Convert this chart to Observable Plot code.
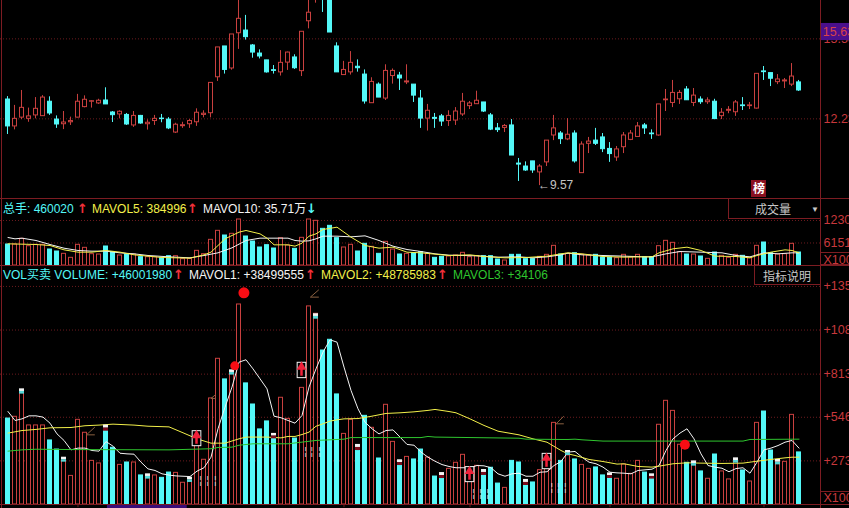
<!DOCTYPE html>
<html><head><meta charset="utf-8">
<script src="https://cdn.jsdelivr.net/npm/d3@7"></script>
<script src="https://cdn.jsdelivr.net/npm/@observablehq/plot@0.6"></script>
<style>
html,body{margin:0;padding:0;background:#000;width:849px;height:508px;overflow:hidden}
#root{position:relative;width:849px;height:508px;overflow:hidden;font-family:"Liberation Sans","Noto Sans CJK SC",sans-serif;font-size:12px}
#root svg{position:absolute;left:0;max-width:none}
.t{position:absolute;white-space:pre;line-height:14px}
.ln{position:absolute;background:#7d1c22}
.box{position:absolute;border:1px solid #7d1c22;box-sizing:border-box;background:#000}
</style></head><body><div id="root"></div>
<script>
const openPrice = [13.02,11.92,12.28,12.23,12.37,12.34,12.93,12.20,12.01,12.09,
12.28,12.71,12.93,12.86,12.98,12.49,12.41,12.39,11.96,12.35,
12.01,12.14,12.24,12.20,11.67,11.93,12.01,12.09,12.39,12.46,
13.93,15.19,14.29,15.73,15.84,15.23,14.90,14.62,14.22,14.13,
14.53,14.74,14.18,16.22,17.3,17.4,17.4,15.19,14.02,14.13,
14.36,14.04,12.87,13.63,13.06,13.98,14.00,13.72,13.63,13.06,
12.24,12.27,12.33,12.14,12.16,12.41,12.75,12.83,12.90,12.37,
11.84,11.86,11.96,10.40,10.28,10.49,10.04,10.45,11.55,11.63,
11.39,11.63,10.01,11.21,11.34,11.47,11.00,10.65,11.07,11.37,
11.49,11.96,11.63,11.55,12.99,12.88,13.03,13.43,12.88,13.02,
12.91,12.93,12.34,12.56,12.50,12.78,12.75,12.65,14.17,14.10,
13.73,13.76,13.63,13.72];
const closePrice = [11.92,12.23,12.68,12.33,12.64,13.10,12.45,12.00,12.08,12.14,
12.93,13.01,12.95,12.97,12.82,12.38,12.52,12.00,12.35,12.04,
12.07,12.23,12.22,11.84,11.99,11.97,12.14,12.48,12.44,13.70,
15.15,14.23,15.68,16.32,15.57,14.94,14.78,14.13,14.19,14.52,
14.94,14.30,15.79,16.57,17.6,17.2,15.76,14.13,14.23,14.52,
14.30,12.94,13.74,13.10,14.19,14.19,13.88,13.76,13.18,12.24,
12.56,12.23,12.12,12.35,12.53,12.93,12.86,12.97,12.53,11.79,
11.77,11.94,10.73,10.36,10.12,10.12,10.28,11.34,11.84,11.40,
11.58,10.49,11.18,11.30,11.21,10.99,10.79,10.98,11.55,11.63,
11.92,11.84,11.60,12.82,13.02,13.29,13.29,12.99,13.18,12.91,
12.98,12.22,12.48,12.60,12.90,12.75,12.78,14.07,14.14,13.87,
13.84,13.80,13.96,13.39];
const high = [13.14,12.78,13.39,12.67,13.10,13.18,13.13,12.35,12.53,12.30,
13.23,13.17,12.98,13.03,13.50,12.53,12.56,12.45,12.53,12.37,
12.19,12.37,12.41,12.28,12.05,12.09,12.20,12.64,12.56,13.70,
15.15,15.19,15.68,17.3,16.46,15.27,15.05,14.62,14.41,15.02,
14.96,14.85,15.79,17.3,17.8,17.6,17.6,15.34,14.58,14.98,
14.64,14.23,13.91,13.70,14.44,14.27,14.13,14.44,13.63,13.39,
12.82,12.45,12.41,12.56,12.69,13.27,12.94,13.36,12.90,12.45,
12.04,12.00,12.20,10.61,10.47,10.49,10.36,11.34,12.37,11.71,
12.24,11.74,11.29,11.47,11.84,11.63,11.26,11.10,11.67,11.75,
12.08,12.04,11.78,12.82,13.43,13.80,13.39,13.55,13.47,13.13,
13.09,13.03,12.65,12.73,12.98,13.10,12.90,14.07,14.37,14.10,
14.04,13.88,14.49,13.80];
const low = [11.59,11.78,12.20,12.09,12.23,12.33,12.37,11.84,11.79,11.96,
12.27,12.68,12.67,12.82,12.82,12.08,12.23,11.96,11.88,12.01,
11.77,11.96,12.07,11.79,11.63,11.84,11.84,11.92,12.27,12.27,
13.76,14.06,14.22,15.07,15.45,14.71,14.68,14.10,14.06,13.98,
14.21,14.25,13.96,15.91,16.96,16.58,15.76,14.13,14.02,14.02,
14.14,12.83,12.87,13.10,12.98,13.65,13.39,13.63,12.90,11.84,
11.73,11.84,11.92,11.92,11.96,12.33,12.61,12.82,12.49,11.75,
11.67,11.67,10.73,9.67,10.08,10.00,9.50,10.28,11.34,11.18,
11.34,10.42,10.01,10.81,11.14,10.85,10.45,10.49,10.81,11.34,
11.47,11.59,11.39,11.52,12.53,12.69,12.82,12.98,12.73,12.82,
12.82,12.20,12.20,12.44,12.33,12.57,12.61,12.63,13.80,13.55,
13.63,13.47,13.55,13.35];

const midVolume = [5739,5739,7288,5284,5648,5648,4373,3826,3189,2095,
5648,4828,3097,3006,5193,3644,2733,3006,3006,2278,
2278,2278,2004,2551,2551,1731,1822,4008,3097,7015,
9474,8199,8655,12572,7926,6559,4919,5557,4646,7470,
5466,4555,7561,12572,12207,10021,10841,7470,4919,5648,
3826,5922,5102,3189,6468,4373,3006,3189,3371,3644,
3189,2095,2369,2460,2733,3462,2278,2551,2551,2551,
1640,1367,2915,2915,1731,1731,2369,2915,5375,3006,
3189,3371,2915,2733,2915,2186,2186,2004,2915,2186,
2915,2278,2278,5284,6741,6195,3644,3006,3006,2460,
1822,3553,2642,2095,2915,2642,2004,5375,6286,3371,
3006,3097,5922,3553];
const mavol10Idx = [0,1,2,4,6,8,10,12,14,16,18,20,23,26,28,30,32,34,36,37,39,40,41,42,43,44,45,47,49,51,53,55,57,59,61,63,67,70,73,75,77,79,80,82,85,88,91,92,94,96,99,102,104,106,108,110,112,113];
const mavol10 = [7652,7288,7470,6833,5739,4737,4100,3917,3917,3462,3189,2733,2369,2095,2733,3462,4828,6833,7470,7470,7470,7470,6833,6650,6741,7288,8017,8017,7835,8108,6833,5284,4373,3826,3189,2824,2642,2278,2369,2095,2369,2915,3371,2915,2733,2551,2369,2369,3189,3826,3644,3462,2733,2369,3462,3189,3462,3462];
const mavol5Idx = [0,2,4,6,8,10,12,14,16,18,20,22,26,28,29,31,33,34,36,37,38,39,40,41,42,43,44,45,47,49,51,53,55,57,59,61,63,66,68,71,74,77,79,80,82,85,88,91,92,93,95,97,99,101,104,106,107,109,111,112,113];
const mavol5 = [5922,5830,5739,5466,4282,3644,3644,4100,3644,2915,2551,2186,2004,2915,3644,7288,9110,9566,8655,7470,5648,5648,5648,5284,6104,8017,8655,9839,10477,7744,5466,4737,5011,3644,3462,3097,2733,2915,2460,2095,2186,2551,3189,3462,3189,2460,2278,2369,2369,3462,4555,5011,4100,2551,2460,2095,2733,3644,4282,4100,3462];

const volume = [538,549,714,495,495,495,401,344,275,179,
530,449,273,257,459,355,248,263,263,182,
182,182,167,200,198,136,150,380,280,664,
912,783,829,1252,758,626,470,520,417,668,
536,413,730,1240,1194,964,1031,689,442,530,
336,555,480,288,624,392,244,298,282,344,
294,175,161,223,261,311,192,242,182,230,
131,104,273,263,119,138,215,223,511,273,
307,282,248,223,232,182,171,161,250,192,
273,200,171,499,649,586,374,261,255,207,
161,313,207,157,275,213,144,511,582,338,
265,267,561,326];
const mavol1 = [582,526,536,555,555,547,509,442,401,342,
353,353,338,334,394,365,321,317,315,265,
223,213,192,184,179,177,175,209,230,296,
474,609,735,891,906,849,787,724,553,543,
526,509,557,735,849,954,1031,1016,860,714,
599,515,474,442,463,467,422,376,371,328,
296,271,250,238,230,230,230,244,242,230,
192,177,192,196,177,177,202,205,244,269,
328,332,296,265,255,234,202,198,196,192,
213,217,221,244,338,411,447,474,411,317,
244,234,227,205,225,230,196,265,342,353,
369,390,401,353];
const mavol2Idx = [0,2,4,6,9,11,13,15,18,20,23,25,27,29,31,33,34,37,39,40,41,42,43,44,45,46,47,48,50,52,54,56,58,60,61,63,64,66,68,70,73,75,77,79,80,81,83,85,87,88,90,92,93,95,97,99,102,105,107,109,111,112,113];
const mavol2 = [447,463,470,480,482,493,497,503,497,490,486,449,411,384,384,411,422,422,417,426,426,438,453,490,505,522,530,536,538,553,570,574,580,589,595,582,574,536,495,459,436,411,390,338,317,307,282,269,253,255,238,234,240,255,261,259,257,259,271,282,292,296,296];
const mavol3Idx = [0,2,4,9,23,29,30,32,33,35,39,40,44,48,49,59,60,61,73,74,79,80,81,82,85,104,105,106,113];
const mavol3 = [334,342,346,344,342,349,357,359,371,380,380,380,401,409,419,419,426,422,415,409,407,407,409,405,397,397,397,407,409];

const markerIdx = [2,8,14,20,26,32,38,44,50,56,62,68,74,80,86,92,98,104,110];
const markerTop = [724,296,497,192,171,843,445,1194,376,280,200,219,157,338,198,192,273,292,282];
const markerBot = [691,265,459,159,138,810,411,1160,338,244,163,182,119,307,163,159,240,259,248];
const markerDark = [14,38,50,56,62,68,74,86,92];
const boxIdx = [27,42,66,77];
const boxTop = [459,887,234,317];
const boxBot = [365,791,140,221];
const dotIdx = [33.7,32.4,96.7];
const dotVal = [1325,868,374];
const dotSize = [5.5,4.5,5];
const angleIdx = [11.2,29,43.2,78.3];
const angleEnd = [12.4,29.7,44.4,79.4];
const angleLow = [436,664,1298,505];
const angleHigh = [484,689,1344,553];
const specksIdx = [27.5,28.5,29.6,42.5,43.4,44.5,66.5,67.5,68.5,77.7,78.6,79.6];
const specksVal = [150,150,150,332,332,332,67,67,67,104,104,104];
const dateTicks = [10,48,66,86,108];

const priceTicks = [15.50,12.23], priceLabels = ["15.50","12.23"];
const midTicks = [12302,6151], midLabels = ["1230","6151"];
const volTicks = [1365,1092,816,546,273], volLabels = ["+135","+108","+813","+546","+273"];

const RED="#c9403f", CYAN="#54f8f8", YEL="#f3f04a", GRN="#2fc62f", WHT="#f4f4f4", GRID="#6c1a1e", AX="#c8383c";
const font="'Liberation Sans','Noto Sans CJK SC',sans-serif";
const idx = d3.range(openPrice.length);
const xScale = {type:"linear",domain:[-1.0714,116.0714],range:[0,820]};
const base = {width:849,marginLeft:0,marginRight:29,marginTop:0,marginBottom:0,x:{...xScale,axis:null},
  style:{background:"transparent",fontFamily:font,fontSize:"12px",overflow:"hidden"}};
const up = i => closePrice[i]>=openPrice[i];
const hw = 2/7;

function axis(ticks,labels){return Plot.axisY(ticks,{anchor:"right",tickSize:0,tickPadding:3,color:AX,fontSize:12.5,
  tickFormat:d=>labels[ticks.indexOf(d)]});}
function grid(ticks){return Plot.ruleY(ticks,{stroke:GRID,strokeDasharray:"1 2"});}
function bars(vals){return Plot.rect(idx,{x1:i=>i-hw,x2:i=>i+hw,y1:0,y2:i=>vals[i],
  fill:i=>up(i)?"#000":CYAN,stroke:i=>up(i)?RED:CYAN,strokeWidth:1});}
function series(ix,vs,c){return Plot.line(vs,{x:(d,k)=>ix[k],y:d=>d,stroke:c,strokeWidth:1});}

const pricePlot = Plot.plot({...base,height:198,y:{domain:[17.069,8.973],range:[0,198],axis:null},marks:[
  grid(priceTicks), axis(priceTicks,priceLabels),
  Plot.ruleX(idx,{x:i=>i,y1:i=>low[i],y2:i=>high[i],stroke:i=>up(i)?RED:CYAN,strokeWidth:1,dx:-0.5}),
  Plot.rect(idx,{x1:i=>i-hw,x2:i=>i+hw,y1:i=>openPrice[i],y2:i=>closePrice[i],fill:i=>up(i)?"#000":CYAN,stroke:i=>up(i)?RED:CYAN,strokeWidth:1}),
  Plot.text(["←9.57"],{x:75.7,y:9.50,text:d=>d,textAnchor:"start",fill:"#c4c4c4",fontSize:12}),
  Plot.rect([0],{x1:116.2,x2:121,y1:16.13,y2:15.43,fill:"#4a0f8c"}),
  Plot.text(["15.63"],{x:116.4,y:15.78,text:d=>d,textAnchor:"start",fill:"#d8434a",fontSize:12.5})
]});
pricePlot.style.top="0";

const midPlot = Plot.plot({...base,height:68,y:{domain:[18311,-273],range:[0,68],axis:null},marks:[
  grid(midTicks), axis([...midTicks,1640],[...midLabels,"X100"]),
  bars(midVolume),
  series(mavol10Idx,mavol10,WHT), series(mavol5Idx,mavol5,YEL)
]});
midPlot.style.top="198px";

const volPlot = Plot.plot({...base,height:243,r:{type:"identity"},y:{domain:[1496,-25],range:[0,243],axis:null},marks:[
  grid(volTicks), axis([...volTicks,41],[...volLabels,"X100"]),
  Plot.rect([0],{x1:14.2,x2:25.6,y1:-2,y2:-25,fill:"#3a0c78"}),
  Plot.ruleX(dateTicks,{x:d=>d,y1:0,y2:-20,stroke:GRID}),
  bars(volume),
  series(d3.range(mavol1.length),mavol1,WHT), series(mavol2Idx,mavol2,YEL), series(mavol3Idx,mavol3,GRN),
  Plot.text(specksIdx,{x:d=>d,y:(d,k)=>specksVal[k],text:()=>"¦",fill:"#d8d8d8",fontSize:10}),
  Plot.link(angleIdx,{x1:d=>d,x2:(d,k)=>angleEnd[k],y1:(d,k)=>angleLow[k],y2:(d,k)=>angleHigh[k],stroke:"#8a6040"}),
  Plot.link(angleIdx,{x1:d=>d,x2:(d,k)=>angleEnd[k],y1:(d,k)=>angleLow[k],y2:(d,k)=>angleLow[k],stroke:"#8a6040"}),
  Plot.rect(markerIdx,{x1:d=>d-hw-0.07,x2:d=>d+hw+0.07,y1:(d,k)=>markerTop[k],y2:(d,k)=>(markerTop[k]+markerBot[k])/2,fill:"#f4f4f4"}),
  Plot.rect(markerIdx,{x1:d=>d-hw-0.07,x2:d=>d+hw+0.07,y1:(d,k)=>(markerTop[k]+markerBot[k])/2,y2:(d,k)=>markerBot[k],fill:d=>markerDark.includes(d)?"#7a0c1c":"#58d8d8"}),
  Plot.rect(boxIdx,{x1:d=>d-0.62,x2:d=>d+0.62,y1:(d,k)=>boxTop[k],y2:(d,k)=>boxBot[k],fill:"#000",stroke:"#f4f4f4",strokeWidth:1}),
  Plot.ruleX(boxIdx,{x:d=>d,y1:(d,k)=>boxBot[k]+12,y2:(d,k)=>boxTop[k]-30,stroke:"#f0203a",strokeWidth:2.5,dx:-0.5}),
  Plot.dot(boxIdx,{x:d=>d,y:(d,k)=>boxTop[k]-26,symbol:"triangle",r:3.6,fill:"#f0203a",dx:-0.5}),
  Plot.dot(dotIdx,{x:d=>d,y:(d,k)=>dotVal[k],r:(d,k)=>dotSize[k],fill:"#f80d14"})
]});
volPlot.style.top="265px";

const root=document.getElementById("root");
root.append(pricePlot,midPlot,volPlot);

function line(l,t,w,h){const d=document.createElement("div");d.className="ln";d.style.cssText=`left:${l}px;top:${t}px;width:${w}px;height:${h}px`;root.append(d);}
line(1,0,1,508); line(820,0,1,508);
line(0,198,849,1); line(0,265,849,1); line(0,504,849,1);
line(821,252,28,1); line(821,264,28,1); line(821,491,28,1);

function box(l,t,w,h){const d=document.createElement("div");d.className="box";d.style.cssText=`left:${l}px;top:${t}px;width:${w}px;height:${h}px`;root.append(d);}
function txt(s,l,t,c,extra=""){const d=document.createElement("span");d.className="t";d.textContent=s;d.style.cssText=`left:${l}px;top:${t}px;color:${c};${extra}`;root.append(d);}
box(728,198,93,21); box(754,265,67,20);
const sb=document.createElement("div");sb.style.cssText="position:absolute;left:751px;top:180px;width:15px;height:17px;background:#8a1020";root.append(sb);
txt("榜",753,182,"#fff","font-weight:700");
txt("成交量",755,203,"#c8c8c8");
txt("▼",811,203,"#c8c8c8","font-size:8px");
txt("指标说明",763,270,"#c8c8c8");

const row1=202, row2=268;
const ARW="font-family:'DejaVu Sans';font-weight:700;font-size:13px";
txt("总手: 460020",3,row1,CYAN); txt("↑",77,row1,"#f0303a",ARW);
txt("MAVOL5: 384996",92,row1,YEL); txt("↑",187,row1,"#f0303a",ARW);
txt("MAVOL10: 35.71万",203,row1,WHT); txt("↓",306,row1,CYAN,ARW);
txt("VOL买卖 VOLUME: +46001980",3,row2,CYAN); txt("↑",173,row2,"#f0303a",ARW);
txt("MAVOL1: +38499555",189,row2,WHT); txt("↑",305,row2,"#f0303a",ARW);
txt("MAVOL2: +48785983",321,row2,YEL); txt("↑",437,row2,"#f0303a",ARW);
txt("MAVOL3: +34106",453,row2,GRN);
</script></body></html>
